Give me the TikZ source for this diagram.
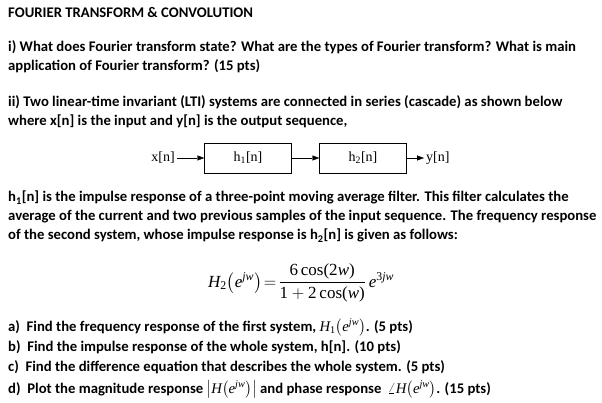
\documentclass[tikz,border=0pt]{standalone}
\usepackage{amsmath}
\usepackage{fontspec}
\setmainfont{Carlito}
\newfontfamily\tms{Liberation Serif}
\usetikzlibrary{arrows.meta}
\newcommand{\mi}[1]{\text{\tms\itshape\mdseries #1}}
\newcommand{\mr}[1]{\text{\tms\upshape\mdseries #1}}
\begin{document}
\begin{tikzpicture}[x=1pt,y=-1pt,
  ln/.style={anchor=base west,inner sep=0pt,font=\fontsize{14.7}{16}\selectfont\bfseries},
  blk/.style={draw,minimum width=87pt,minimum height=30pt,font=\tms\fontsize{14}{16}\selectfont},
  sig/.style={inner sep=2pt,font=\tms\fontsize{14}{16}\selectfont},
  arr/.style={-{Triangle[length=7pt,width=5pt]}}]
\useasboundingbox (0,0) rectangle (602,403);
\node[ln] (t) at (8,18) {FOURIER TRANSFORM \& CONVOLUTION};
\node[ln] (i1) at (8,52) {i) What does Fourier transform state? What are the types of Fourier transform? What is main};
\node[ln] (i2) at (8,71) {application of Fourier transform? (15 pts)};
\node[ln] (ii1) at (8,107) {ii) Two linear-time invariant (LTI) systems are connected in series (cascade) as shown below};
\node[ln] (ii2) at (8,126) {where x[n] is the input and y[n] is the output sequence,};
\node[blk] (h1) at (248,158) {h\textsubscript{1}[n]};
\node[blk] (h2) at (363,158) {h\textsubscript{2}[n]};
\node[sig,anchor=east] (x) at (177,158) {x[n]};
\node[sig,anchor=west] (y) at (424,158) {y[n]};
\draw[arr] (x) -- (h1);
\draw[arr] (h1) -- (h2);
\draw[arr] (h2) -- (y);
\node[ln] (p1) at (8,202) {h\textsubscript{1}[n] is the impulse response of a three-point moving average filter. This filter calculates the};
\node[ln] (p2) at (8,221) {average of the current and two previous samples of the input sequence. The frequency response};
\node[ln] (p3) at (8,240) {of the second system, whose impulse response is h\textsubscript{2}[n] is given as follows:};
\node[anchor=west,inner sep=0pt,font=\tms\fontsize{17}{19}\selectfont] (f) at (208,283)
 {$\mi{H}_{\mr{2}}\!\left(\mi{e}^{\mi{jw}}\right)\!=\!\dfrac{\mr{6\,cos(2}\mi{w}\mr{)}}{\mr{1}+\mr{2\,cos(}\mi{w}\mr{)}}\,\mi{e}^{\mr{3}\mi{jw}}$};
\node[ln] (a) at (8,331) {a)\ \ Find the frequency response of the first system, {$\mi{H}_{\mr{1}}\!\left(\mi{e}^{\mi{jw}}\right)$}. (5 pts)};
\node[ln] (b) at (8,351) {b)\ \ Find the impulse response of the whole system, h[n]. (10 pts)};
\node[ln] (c) at (8,371) {c)\ \ Find the difference equation that describes the whole system. (5 pts)};
\node[ln] (d) at (8,393) {d)\ \ Plot the magnitude response {$\left|\mi{H}\!\left(\mi{e}^{\mi{jw}}\right)\right|$} and phase response \ {$\angle \mi{H}\!\left(\mi{e}^{\mi{jw}}\right)$}. (15 pts)};
\end{tikzpicture}
\end{document}
